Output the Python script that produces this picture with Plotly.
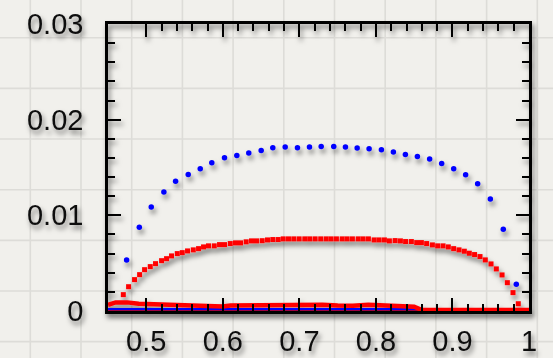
import plotly.graph_objects as go

# Upper curve (blue circles)
blue_x = [0.4743, 0.4909, 0.5065, 0.5230, 0.5383, 0.5548, 0.5705, 0.5856, 0.6022,
          0.6183, 0.6339, 0.6501, 0.6653, 0.6815, 0.6975, 0.7132, 0.7285, 0.7449,
          0.7602, 0.7755, 0.7911, 0.8072, 0.8228, 0.8385, 0.8542, 0.8702, 0.8859,
          0.9016, 0.9172, 0.9329, 0.9495, 0.9664, 0.9834]
blue_y = [0.00534, 0.00876, 0.01086, 0.01243, 0.01356, 0.01427, 0.01487, 0.01550,
          0.01602, 0.01626, 0.01651, 0.01679, 0.01707, 0.01714, 0.01707, 0.01714,
          0.01720, 0.01720, 0.01714, 0.01704, 0.01696, 0.01686, 0.01662, 0.01637,
          0.01616, 0.01588, 0.01542, 0.01487, 0.01424, 0.01330, 0.01170, 0.00855,
          0.00279]

# Middle curve (red squares)
red_x = [0.4700, 0.4769, 0.4847, 0.4913, 0.4978, 0.5052, 0.5121, 0.5200, 0.5265,
         0.5330, 0.5405, 0.5470, 0.5539, 0.5614, 0.5683, 0.5748, 0.5813, 0.5888,
         0.5957, 0.6022, 0.6097, 0.6166, 0.6231, 0.6305, 0.6375, 0.6440, 0.6514,
         0.6584, 0.6653, 0.6723, 0.6789, 0.6858, 0.6927, 0.6997, 0.7071, 0.7136,
         0.7206, 0.7279, 0.7350, 0.7415, 0.7484, 0.7559, 0.7624, 0.7693, 0.7768,
         0.7833, 0.7902, 0.7977, 0.8042, 0.8111, 0.8176, 0.8251, 0.8320, 0.8388,
         0.8463, 0.8533, 0.8594, 0.8663, 0.8738, 0.8807, 0.8877, 0.8946, 0.9016,
         0.9086, 0.9155, 0.9220, 0.9289, 0.9360, 0.9429, 0.9504, 0.9573, 0.9648,
         0.9717, 0.9791, 0.9860]
red_y = [0.00171, 0.00254, 0.00328, 0.00380, 0.00432, 0.00464, 0.00495, 0.00526,
         0.00547, 0.00576, 0.00600, 0.00610, 0.00628, 0.00639, 0.00652, 0.00670,
         0.00681, 0.00681, 0.00694, 0.00694, 0.00705, 0.00712, 0.00712, 0.00723,
         0.00733, 0.00733, 0.00735, 0.00743, 0.00747, 0.00747, 0.00754, 0.00754,
         0.00754, 0.00754, 0.00754, 0.00754, 0.00754, 0.00754, 0.00754, 0.00754,
         0.00754, 0.00754, 0.00754, 0.00754, 0.00754, 0.00754, 0.00754, 0.00743,
         0.00743, 0.00743, 0.00733, 0.00736, 0.00733, 0.00726, 0.00726, 0.00715,
         0.00715, 0.00705, 0.00691, 0.00681, 0.00681, 0.00670, 0.00652, 0.00639,
         0.00625, 0.00604, 0.00590, 0.00569, 0.00534, 0.00492, 0.00440, 0.00377,
         0.00296, 0.00192, 0.00076]

# Near-zero series along the bottom of the frame
red_low_x = [0.450, 0.460, 0.475, 0.490, 0.510, 0.530, 0.560, 0.590, 0.600, 0.610,
             0.640, 0.670, 0.690, 0.710, 0.730, 0.750, 0.770, 0.790, 0.810, 0.830,
             0.850, 0.860, 0.900, 0.950, 1.000]
red_low_y = [0.00065, 0.00090, 0.00090, 0.00075, 0.00070, 0.00066, 0.00062, 0.00058,
             0.00048, 0.00058, 0.00060, 0.00056, 0.00060, 0.00070, 0.00066, 0.00058,
             0.00054, 0.00066, 0.00062, 0.00050, 0.00045, 0.00010, 0.00010, 0.00010,
             0.00010]
blue_low_x = [0.450, 1.000]
blue_low_y = [0.00020, 0.00020]
red_zero_x = [0.450, 1.000]
red_zero_y = [0.00005, 0.00005]

# Axis ticks
x_tickvals = [0.5, 0.6, 0.7, 0.8, 0.9, 1.0]
x_ticktext = ["0.5", "0.6", "0.7", "0.8", "0.9", "1"]
x_minorvals = [0.52, 0.54, 0.56, 0.58, 0.62, 0.64, 0.66, 0.68, 0.72, 0.74, 0.76, 0.78,
               0.82, 0.84, 0.86, 0.88, 0.92, 0.94, 0.96, 0.98]
y_tickvals = [0.0, 0.01, 0.02, 0.03]
y_ticktext = ["0", "0.01", "0.02", "0.03"]
y_minorvals = [0.002, 0.004, 0.006, 0.008, 0.012, 0.014, 0.016, 0.018,
               0.022, 0.024, 0.026, 0.028]

W, H = 553, 358
L, R, T, B = 108, 24, 24, 47
PAPER = "#f1f0ec"
GRID = "#dddcd8"
FONT = dict(family="Liberation Sans, Arial, Helvetica, sans-serif", size=29, color="#111111")

fig = go.Figure()
fig.add_trace(go.Scatter(x=red_zero_x, y=red_zero_y, mode="lines",
                         line=dict(color="#d00000", width=2), hoverinfo="skip"))
fig.add_trace(go.Scatter(x=blue_low_x, y=blue_low_y, mode="lines",
                         line=dict(color="#0000ff", width=2.2), hoverinfo="skip"))
fig.add_trace(go.Scatter(x=red_low_x, y=red_low_y, mode="lines",
                         line=dict(color="#ff0000", width=4.5), hoverinfo="skip"))
fig.add_trace(go.Scatter(x=red_x, y=red_y, mode="markers",
                         marker=dict(symbol="square", size=5, color="#ff0000",
                                     line=dict(width=0))))
fig.add_trace(go.Scatter(x=blue_x, y=blue_y, mode="markers",
                         marker=dict(symbol="circle", size=5.5, color="#0000ff",
                                     line=dict(width=0))))

# Graph-paper background grid, spaced in pixels across the whole page
pw, ph = W - L - R, H - T - B
shapes = []
gx = 30.3
while gx < W:
    xp = (gx - L) / pw
    shapes.append(dict(type="line", xref="paper", yref="paper", x0=xp, x1=xp,
                       y0=(H - B) / ph + 0.1, y1=-(B / ph) - 0.1,
                       line=dict(color=GRID, width=1.6), layer="below"))
    gx += 50.7
gy = 37.7
while gy < H:
    yp = (H - B - gy) / ph
    shapes.append(dict(type="line", xref="paper", yref="paper", y0=yp, y1=yp,
                       x0=-(L / pw) - 0.1, x1=(W - L) / pw + 0.1,
                       line=dict(color=GRID, width=1.6), layer="below"))
    gy += 50.66

axis_common = dict(
    showgrid=False, zeroline=False, showline=True, linecolor="black", linewidth=2.5,
    mirror="ticks", ticks="inside", ticklen=13, tickwidth=2, tickcolor="black",
    tickfont=FONT, automargin=False,
)

fig.update_layout(
    width=W, height=H, margin=dict(l=L, r=R, t=T, b=B, pad=0, autoexpand=False),
    paper_bgcolor=PAPER, plot_bgcolor="rgba(0,0,0,0)",
    showlegend=False, shapes=shapes,
    xaxis=dict(range=[0.45, 1.0], tickvals=x_tickvals, ticktext=x_ticktext,
               ticklabelstandoff=2,
               minor=dict(tickvals=x_minorvals, ticks="inside", ticklen=7,
                          tickwidth=2, tickcolor="black", showgrid=False),
               **axis_common),
    yaxis=dict(range=[0.0, 0.03], tickvals=y_tickvals, ticktext=y_ticktext,
               ticklabelstandoff=16,
               minor=dict(tickvals=y_minorvals, ticks="inside", ticklen=7,
                          tickwidth=2, tickcolor="black", showgrid=False),
               **axis_common),
)

# Soft drop shadow under the frame, ticks, labels and markers
shadow_js = """
var gd = document.getElementById('{plot_id}');
var ns = 'http://www.w3.org/2000/svg';
function applyShadow() {
  var svg = gd.querySelector('svg.main-svg');
  if (!document.getElementById('soft-shadow')) {
    var defs = svg.querySelector('defs');
    if (!defs) { defs = document.createElementNS(ns, 'defs'); svg.insertBefore(defs, svg.firstChild); }
    var f = document.createElementNS(ns, 'filter');
    f.setAttribute('id', 'soft-shadow');
    f.setAttribute('filterUnits', 'userSpaceOnUse');
    f.setAttribute('x', '-20'); f.setAttribute('y', '-20');
    f.setAttribute('width', '600'); f.setAttribute('height', '400');
    var ds = document.createElementNS(ns, 'feDropShadow');
    ds.setAttribute('dx', '2'); ds.setAttribute('dy', '4');
    ds.setAttribute('stdDeviation', '2.5');
    ds.setAttribute('flood-color', '#000000'); ds.setAttribute('flood-opacity', '0.5');
    f.appendChild(ds); defs.appendChild(f);
  }
  gd.querySelectorAll('g.cartesianlayer').forEach(function(g) {
    g.setAttribute('filter', 'url(#soft-shadow)');
  });
}
applyShadow();
gd.on('plotly_afterplot', applyShadow);
"""

fig.write_html("out.html", config={"displayModeBar": False}, post_script=shadow_js)
